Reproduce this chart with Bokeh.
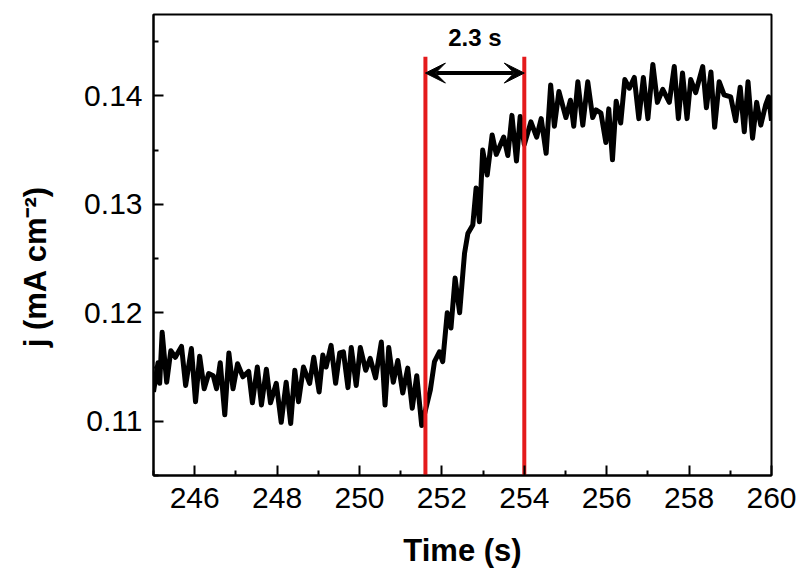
from bokeh.plotting import figure
from bokeh.models import FixedTicker, PrintfTickFormatter, Arrow, VeeHead, Range1d, Label
from bokeh.embed import file_html
from bokeh.resources import INLINE

# ---- data ----
time_s = [
    245.00, 245.11, 245.15, 245.21, 245.32, 245.42, 245.53, 245.68, 245.78, 245.92,
    246.02, 246.12, 246.23, 246.34, 246.45, 246.53, 246.62, 246.73, 246.83, 246.93,
    247.04, 247.17, 247.31, 247.40, 247.52, 247.62, 247.74, 247.84, 247.98, 248.10,
    248.22, 248.33, 248.43, 248.52, 248.64, 248.79, 248.89, 249.02, 249.11, 249.19,
    249.31, 249.42, 249.52, 249.61, 249.72, 249.80, 249.92, 250.02, 250.15, 250.26,
    250.39, 250.53, 250.62, 250.71, 250.82, 250.93, 251.05, 251.17, 251.28, 251.39,
    251.51, 251.72, 251.82, 251.94, 252.02, 252.13, 252.22, 252.32, 252.43, 252.51,
    252.55, 252.63, 252.75, 252.83, 252.91, 252.99, 253.10, 253.22, 253.32, 253.50,
    253.60, 253.70, 253.81, 253.90, 254.00, 254.16, 254.30, 254.41, 254.53, 254.64,
    254.73, 254.84, 255.01, 255.12, 255.20, 255.30, 255.42, 255.54, 255.66, 255.74,
    255.86, 255.98, 256.05, 256.14, 256.23, 256.34, 256.44, 256.55, 256.67, 256.78,
    256.89, 257.00, 257.12, 257.23, 257.36, 257.52, 257.64, 257.74, 257.84, 257.95,
    258.04, 258.16, 258.33, 258.42, 258.53, 258.62, 258.73, 258.85, 259.01, 259.13,
    259.24, 259.34, 259.43, 259.54, 259.64, 259.74, 259.86, 259.93, 260.00,
]
current = [
    0.1127, 0.1154, 0.1135, 0.1182, 0.1136, 0.1165, 0.1159, 0.1169, 0.1133, 0.1167,
    0.1118, 0.1160, 0.1130, 0.1144, 0.1142, 0.1130, 0.1154, 0.1106, 0.1163, 0.1130,
    0.1153, 0.1141, 0.1146, 0.1117, 0.1150, 0.1115, 0.1148, 0.1117, 0.1135, 0.1099,
    0.1136, 0.1098, 0.1147, 0.1118, 0.1150, 0.1135, 0.1159, 0.1127, 0.1161, 0.1150,
    0.1170, 0.1135, 0.1163, 0.1164, 0.1131, 0.1168, 0.1133, 0.1168, 0.1147, 0.1158,
    0.1140, 0.1173, 0.1115, 0.1168, 0.1136, 0.1156, 0.1126, 0.1149, 0.1112, 0.1142,
    0.1096, 0.1129, 0.1155, 0.1164, 0.1155, 0.1200, 0.1186, 0.1232, 0.1200, 0.1237,
    0.1255, 0.1273, 0.1281, 0.1315, 0.1284, 0.1350, 0.1327, 0.1364, 0.1346, 0.1362,
    0.1345, 0.1382, 0.1340, 0.1381, 0.1355, 0.1376, 0.1362, 0.1379, 0.1347, 0.1410,
    0.1372, 0.1404, 0.1380, 0.1396, 0.1372, 0.1413, 0.1373, 0.1413, 0.1380, 0.1387,
    0.1384, 0.1357, 0.1388, 0.1341, 0.1395, 0.1375, 0.1415, 0.1407, 0.1417, 0.1379,
    0.1417, 0.1379, 0.1429, 0.1394, 0.1406, 0.1394, 0.1427, 0.1379, 0.1421, 0.1379,
    0.1415, 0.1403, 0.1427, 0.1389, 0.1422, 0.1371, 0.1413, 0.1401, 0.1399, 0.1377,
    0.1408, 0.1367, 0.1413, 0.1361, 0.1394, 0.1373, 0.1392, 0.1399, 0.1377,
]
marker_times = [251.6, 254.0]     # red vertical markers
marker_top = 0.1436
arrow_y = 0.1421
annotation_text = "2.3 s"
annotation_x = 252.8
annotation_y = 0.1454

x_ticks = [246, 248, 250, 252, 254, 256, 258, 260]
x_minor = [245, 247, 249, 251, 253, 255, 257, 259]
y_ticks = [0.11, 0.12, 0.13, 0.14]
y_minor = [0.105, 0.115, 0.125, 0.135, 0.145]

FONT = "Liberation Sans"

p = figure(width=803, height=574,
           x_range=Range1d(245, 260), y_range=Range1d(0.105, 0.1475),
           output_backend="svg", toolbar_location=None,
           min_border_left=153, min_border_right=32,
           min_border_top=14, min_border_bottom=99)

p.background_fill_color = "white"
p.border_fill_color = "white"
p.outline_line_color = "black"
p.outline_line_width = 2
p.xgrid.visible = False
p.ygrid.visible = False

p.xaxis.ticker = FixedTicker(ticks=x_ticks, minor_ticks=x_minor)
p.yaxis.ticker = FixedTicker(ticks=y_ticks, minor_ticks=y_minor)
p.yaxis.formatter = PrintfTickFormatter(format="%.2f")

for ax in (p.xaxis[0], p.yaxis[0]):
    ax.axis_line_color = "black"
    ax.axis_line_width = 2
    ax.major_tick_in = 10
    ax.major_tick_out = 0
    ax.minor_tick_in = 5
    ax.minor_tick_out = 0
    ax.major_tick_line_width = 2
    ax.minor_tick_line_width = 2
    ax.major_tick_line_color = "black"
    ax.minor_tick_line_color = "black"
    ax.major_label_text_font = FONT
    ax.major_label_text_font_size = "30px"
    ax.major_label_text_color = "black"
    ax.axis_label_text_font = FONT
    ax.axis_label_text_font_size = "31px"
    ax.axis_label_text_font_style = "bold"
    ax.axis_label_text_color = "black"

p.xaxis.axis_label = "Time (s)"
p.yaxis.axis_label = "j (mA cm\u207b\u00b2)" + "\u00a0" * 5
p.xaxis.major_label_standoff = 12
p.yaxis.major_label_standoff = 11
p.xaxis.axis_label_standoff = 22
p.yaxis.axis_label_standoff = 28

p.line(time_s, current, line_width=5, line_color="black", line_join="round")

p.segment(x0=marker_times, y0=[p.y_range.start - 0.002] * 2,
          x1=marker_times, y1=[marker_top] * 2,
          line_width=4, line_color="#e41a1c")

p.add_layout(Arrow(start=VeeHead(size=20, fill_color="black", line_color="black"),
                   end=VeeHead(size=20, fill_color="black", line_color="black"),
                   x_start=marker_times[0], x_end=marker_times[1],
                   y_start=arrow_y, y_end=arrow_y,
                   line_width=4, line_color="black"))

p.add_layout(Label(x=annotation_x, y=annotation_y, text=annotation_text,
                   text_align="center", text_baseline="middle",
                   text_font=FONT, text_font_size="24px", text_font_style="bold",
                   text_color="black"))

open("out.html", "w").write(file_html(p, INLINE))
